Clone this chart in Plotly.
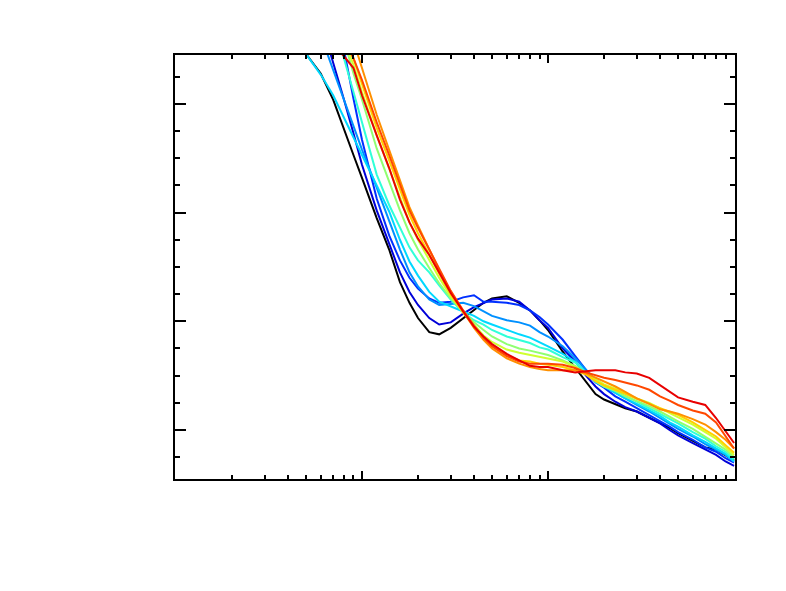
import plotly.graph_objects as go

# x positions shared by all curves (log axis)
x_vals = [0.5, 0.6, 0.7, 0.8, 0.9, 1.0, 1.2, 1.4, 1.6, 1.8, 2.0, 2.3, 2.6, 3.0, 3.5, 4.0, 4.5, 5.0, 6.0, 7.0,
          8.0, 9.0, 10, 12, 14, 16, 18, 20, 23, 26, 30, 35, 40, 45, 50, 60, 70, 80, 90, 100]

black = [4.46, 4.28, 4.04, 3.76, 3.53, 3.32, 2.95, 2.66, 2.36, 2.17, 2.03, 1.90, 1.88, 1.94, 2.03, 2.10, 2.17, 2.21, 2.23, 2.17,
         2.10, 2.01, 1.92, 1.72, 1.57, 1.44, 1.33, 1.28, 1.24, 1.20, 1.17, 1.11, 1.06, 1.02, 0.97, 0.90, 0.84, 0.82, 0.77, 0.72]
dark_blue = [None, 4.77, 4.39, 4.04, 3.73, 3.44, 3.02, 2.72, 2.45, 2.27, 2.15, 2.03, 1.97, 1.99, 2.07, 2.13, 2.17, 2.20, 2.21, 2.18,
             2.10, 2.01, 1.94, 1.75, 1.63, 1.50, 1.40, 1.33, 1.26, 1.21, 1.17, 1.11, 1.06, 1.00, 0.95, 0.88, 0.82, 0.77, 0.71, 0.67]
blue = [None, None, 4.86, 4.50, 4.05, 3.67, 3.13, 2.79, 2.56, 2.40, 2.30, 2.21, 2.17, 2.18, 2.22, 2.24, 2.18, 2.18, 2.17, 2.15,
        2.10, 2.04, 1.97, 1.83, 1.68, 1.55, 1.44, 1.39, 1.31, 1.26, 1.20, 1.14, 1.08, 1.03, 0.98, 0.91, 0.84, 0.80, 0.74, 0.70]
dodger = [None, 4.63, 4.31, 4.04, 3.79, 3.58, 3.23, 2.93, 2.66, 2.45, 2.32, 2.20, 2.15, 2.16, 2.17, 2.14, 2.09, 2.05, 2.01, 1.99,
          1.96, 1.90, 1.86, 1.77, 1.66, 1.55, 1.46, 1.40, 1.34, 1.29, 1.23, 1.17, 1.11, 1.06, 1.01, 0.94, 0.87, 0.82, 0.77, 0.71]
cyan = [4.46, 4.27, 4.08, 3.87, 3.69, 3.53, 3.25, 3.01, 2.75, 2.55, 2.42, 2.27, 2.18, 2.14, 2.09, 2.05, 2.00, 1.97, 1.92, 1.88,
        1.85, 1.81, 1.77, 1.70, 1.63, 1.53, 1.44, 1.40, 1.34, 1.29, 1.24, 1.18, 1.13, 1.07, 1.03, 0.95, 0.89, 0.83, 0.78, 0.71]
aqua = [None, None, 4.73, 4.42, 4.11, 3.83, 3.35, 3.07, 2.86, 2.68, 2.56, 2.45, 2.33, 2.20, 2.08, 2.01, 1.97, 1.92, 1.86, 1.83,
        1.80, 1.76, 1.74, 1.67, 1.62, 1.53, 1.46, 1.41, 1.36, 1.31, 1.26, 1.20, 1.15, 1.10, 1.06, 0.98, 0.92, 0.85, 0.80, 0.73]
light_green = [None, None, 4.77, 4.59, 4.28, 4.04, 3.59, 3.28, 3.02, 2.81, 2.66, 2.49, 2.35, 2.21, 2.09, 1.99, 1.92, 1.86, 1.79, 1.75,
               1.73, 1.71, 1.69, 1.64, 1.59, 1.52, 1.45, 1.40, 1.36, 1.31, 1.27, 1.22, 1.17, 1.12, 1.08, 1.01, 0.94, 0.88, 0.82, 0.75]
yellow_green = [None, None, 4.82, 4.59, 4.36, 4.11, 3.71, 3.41, 3.15, 2.91, 2.75, 2.56, 2.40, 2.23, 2.08, 1.97, 1.87, 1.81, 1.74, 1.71,
                1.69, 1.67, 1.66, 1.63, 1.58, 1.52, 1.46, 1.42, 1.38, 1.34, 1.29, 1.25, 1.20, 1.16, 1.12, 1.05, 0.98, 0.92, 0.84, 0.77]
yellow = [None, None, None, 4.68, 4.42, 4.17, 3.78, 3.48, 3.21, 2.98, 2.81, 2.61, 2.44, 2.25, 2.08, 1.95, 1.85, 1.77, 1.69, 1.64,
          1.63, 1.61, 1.60, 1.58, 1.55, 1.51, 1.45, 1.41, 1.37, 1.33, 1.29, 1.24, 1.20, 1.17, 1.14, 1.07, 1.00, 0.94, 0.86, 0.79]
orange = [None, None, None, 4.86, 4.59, 4.33, 3.90, 3.58, 3.30, 3.05, 2.88, 2.66, 2.47, 2.27, 2.09, 1.94, 1.83, 1.75, 1.66, 1.61,
          1.58, 1.56, 1.55, 1.55, 1.55, 1.52, 1.48, 1.44, 1.40, 1.35, 1.29, 1.24, 1.19, 1.17, 1.15, 1.10, 1.05, 0.98, 0.91, 0.83]
orange_red = [None, None, None, 4.59, 4.42, 4.22, 3.83, 3.53, 3.25, 3.02, 2.86, 2.66, 2.47, 2.28, 2.10, 1.96, 1.85, 1.77, 1.68, 1.63,
              1.61, 1.61, 1.61, 1.60, 1.57, 1.53, 1.50, 1.48, 1.46, 1.44, 1.41, 1.37, 1.31, 1.27, 1.23, 1.18, 1.15, 1.07, 0.94, 0.83]
red = [None, None, 4.54, 4.44, 4.33, 4.08, 3.71, 3.41, 3.12, 2.91, 2.76, 2.61, 2.45, 2.26, 2.09, 1.95, 1.86, 1.79, 1.70, 1.64,
       1.59, 1.58, 1.58, 1.55, 1.53, 1.54, 1.55, 1.55, 1.55, 1.53, 1.52, 1.48, 1.41, 1.35, 1.30, 1.26, 1.23, 1.11, 0.99, 0.88]

curves = [black, dark_blue, blue, dodger, cyan, aqua, light_green, yellow_green, yellow, orange, orange_red, red]
colors = ["#000000", "#0000d8", "#0030ff", "#0090ff", "#00d8ff", "#30ffd8",
          "#90ff70", "#d0ff30", "#ffd000", "#ff9000", "#ff4800", "#e80000"]

# minor tick positions on the log axis
x_minor = [0.2, 0.3, 0.4, 0.5, 0.6, 0.7, 0.8, 0.9, 2, 3, 4, 5, 6, 7, 8, 9, 20, 30, 40, 50, 60, 70, 80, 90]

fig = go.Figure()
for ys, col in zip(curves, colors):
    fig.add_trace(go.Scatter(x=x_vals, y=ys, mode="lines",
                             line=dict(color=col, width=2), showlegend=False))

# the page body adds an 8px margin, so the margins are trimmed to compensate
fig.update_layout(
    width=770, height=575,
    margin=dict(l=167, r=43, t=47, b=104),
    paper_bgcolor="white", plot_bgcolor="white",
)
fig.update_xaxes(
    type="log", range=[-1.005, 2.005],
    showgrid=False, zeroline=False, showticklabels=False,
    showline=True, linecolor="black", linewidth=2, mirror="ticks",
    ticks="inside", ticklen=8, tickwidth=2, tickcolor="black",
    tickvals=[0.1, 1, 10, 100],
    minor=dict(ticks="inside", ticklen=4, tickwidth=2, tickcolor="black",
               tickvals=x_minor, showgrid=False),
)
fig.update_yaxes(
    range=[0.549, 4.45],
    showgrid=False, zeroline=False, showticklabels=False,
    showline=True, linecolor="black", linewidth=2, mirror="ticks",
    ticks="inside", ticklen=11, tickwidth=2, tickcolor="black",
    tick0=0, dtick=1,
    minor=dict(ticks="inside", ticklen=5, tickwidth=2, tickcolor="black",
               dtick=0.25, showgrid=False),
)

fig.write_html("out.html")
